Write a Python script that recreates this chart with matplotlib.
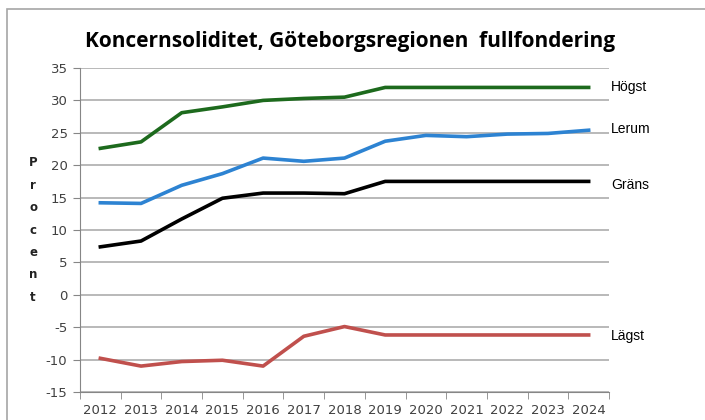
import matplotlib.pyplot as plt
from matplotlib.patches import Rectangle

plt.rcParams['axes.unicode_minus'] = False

years = ['2012', '2013', '2014', '2015', '2016', '2017', '2018',
         '2019', '2020', '2021', '2022', '2023', '2024']
hogst = [22.6, 23.6, 28.1, 29.0, 30.0, 30.3, 30.5, 32.0, 32.0, 32.0, 32.0, 32.0, 32.0]
lerum = [14.2, 14.1, 16.9, 18.7, 21.1, 20.6, 21.1, 23.7, 24.6, 24.4, 24.8, 24.9, 25.4]
grans = [7.4, 8.3, 11.7, 14.9, 15.7, 15.7, 15.6, 17.5, 17.5, 17.5, 17.5, 17.5, 17.5]
lagst = [-9.8, -11.0, -10.3, -10.1, -11.0, -6.4, -4.9, -6.2, -6.2, -6.2, -6.2, -6.2, -6.2]

fig = plt.figure(figsize=(7.05, 4.2), dpi=100)
fig.patches.append(Rectangle((7/705, -0.1), 1.2, 1 - 9/420 + 0.1, transform=fig.transFigure,
                             fill=False, edgecolor='#a6a6a6', linewidth=1.2))
ax = fig.add_axes([80/705, 1 - 392/420, 529/705, 324/420])

x = range(len(years))
ax.plot(x, hogst, color='#1d6a1d', linewidth=2.6)
ax.plot(x, lerum, color='#2d83d2', linewidth=2.6)
ax.plot(x, grans, color='black', linewidth=2.6)
ax.plot(x, lagst, color='#c0504d', linewidth=2.6)

ax.set_xlim(-0.5, len(years) - 0.5)
ax.set_ylim(-15, 35)
ax.set_yticks(range(-15, 36, 5))
ax.set_xticks(list(x))
ax.set_xticklabels(years)
ax.set_xticks([i - 0.5 for i in range(len(years) + 1)], minor=True)
ax.tick_params(axis='x', which='major', length=0, pad=9)
ax.tick_params(axis='x', which='minor', length=5, color='#868686')
ax.tick_params(axis='y', length=5, color='#868686', pad=4)
for lab in ax.get_xticklabels() + ax.get_yticklabels():
    lab.set_fontsize(9.5)
    lab.set_color('#404040')
ax.grid(axis='y', color='#a6a6a6', linewidth=1.1)
ax.set_axisbelow(True)
for s in ['top', 'right']:
    ax.spines[s].set_visible(False)
for s in ['left', 'bottom']:
    ax.spines[s].set_color('#868686')

# series labels at the right end
last = len(years) - 1
for vals, name, dy in [(hogst, 'Högst', 0.0), (lerum, 'Lerum', 0.2),
                       (grans, 'Gräns', -0.5), (lagst, 'Lägst', -0.1)]:
    ax.text(last + 0.55, vals[-1] + dy, name, fontsize=10, family='Liberation Sans',
            va='center', ha='left', clip_on=False)

fig.text(33/705, 1 - 230/420, 'P\nr\no\nc\ne\nn\nt', fontsize=8.5, fontweight='bold',
         ha='center', va='center', linespacing=1.95, color='#222222')
fig.text(350/705, 1 - 42/420, 'Koncernsoliditet, Göteborgsregionen  fullfondering',
         fontsize=15, fontweight='bold', family='Open Sans', ha='center', va='center')

fig.savefig('out.png', dpi=100)
